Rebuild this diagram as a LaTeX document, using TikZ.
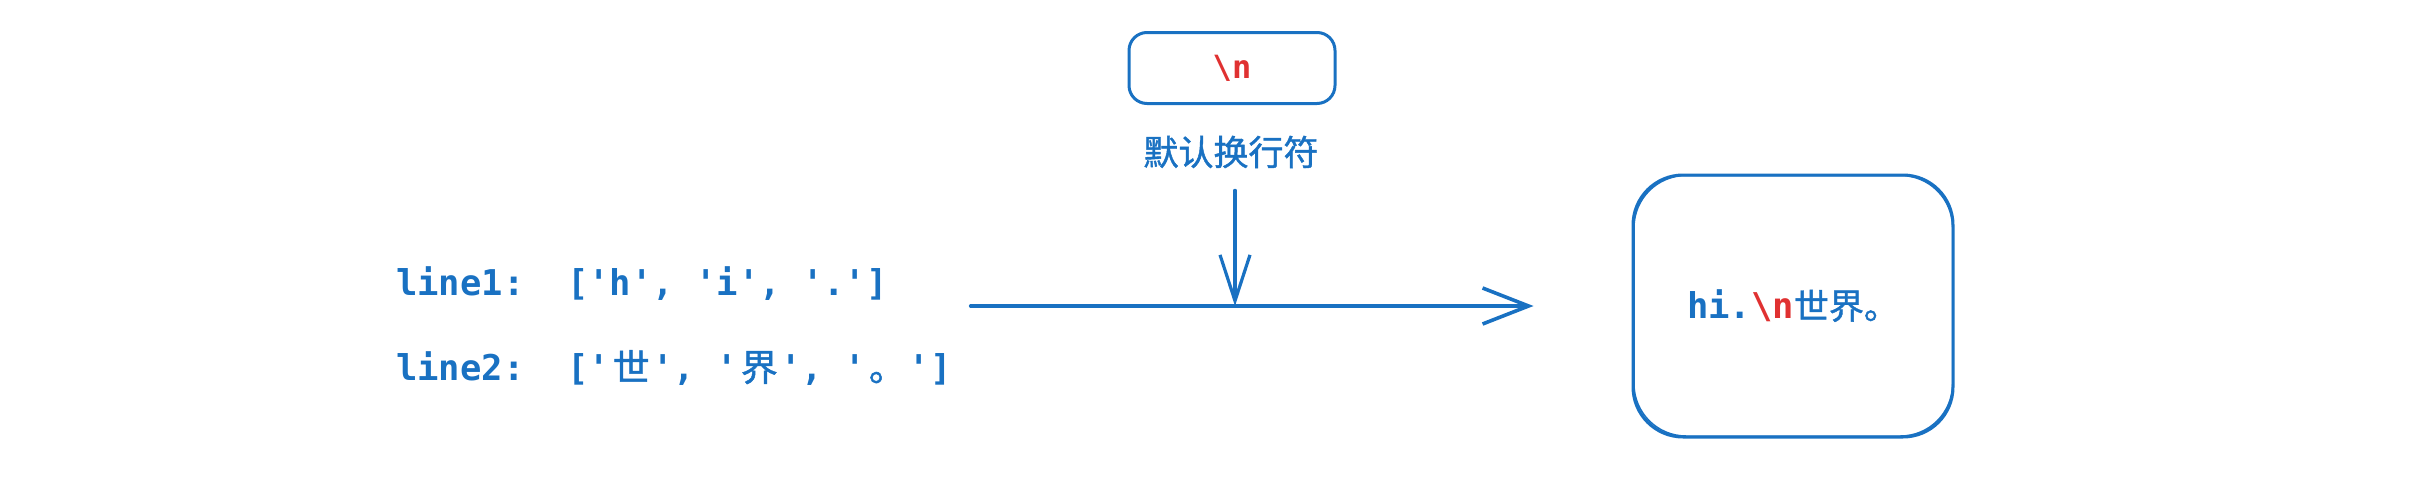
\documentclass[tikz,border=0pt]{standalone}
\usepackage{fontspec}
\setmonofont{DejaVu Sans Mono}
\newfontfamily\cjk{Noto Sans CJK SC}[FakeBold=1.2]
\usetikzlibrary{arrows.meta}
\definecolor{exblue}{HTML}{1971C2}
\definecolor{exred}{HTML}{E03131}
\tikzset{
  sketchbox/.style={draw=exblue, line width=3pt, fill=none, inner sep=0pt},
  monotxt/.style={text=exblue, font=\fontsize{35.5}{43}\selectfont\ttfamily\bfseries, inner sep=0pt, anchor=west},
  cjklabel/.style={text=exblue, font=\fontsize{35}{40}\selectfont\cjk, inner sep=0pt},
  arrh/.style={draw=exblue, line width=3.6pt, line cap=round, -{Straight Barb[length=46pt,width=36pt]}},
  arrv/.style={draw=exblue, line width=3.2pt, line cap=round, -{Straight Barb[length=46pt,width=30pt]}},
}
\newcommand{\cjw}[1]{\makebox[42.6pt]{\fontsize{37}{43}\selectfont\cjk\mdseries #1}}
\begin{document}
\begin{tikzpicture}[x=1pt,y=1pt]
\useasboundingbox (0,0) rectangle (2436,-482);
% top box with \n
\node[sketchbox, rounded corners=18pt, minimum width=206pt, minimum height=71pt,
      text=exred, font=\fontsize{32}{36}\selectfont\ttfamily\bfseries] (nl) at (1232,-68) {\textbackslash n};
\node[cjklabel] (lbl) at (1231,-152) {默认换行符};
% left text
\node[monotxt] (l1) at (396,-284) {line1:~~['h',~'i',~'.']};
\node[monotxt] (l2) at (396,-368) {line2:~~['\cjw{世}',~'\cjw{界}',~'\cjw{。}']};
% right box
\node[sketchbox, rounded corners=50pt, minimum width=320pt, minimum height=262pt,
      text=exblue] (rb) at (1793,-306)
      {{\fontsize{35.5}{43}\selectfont\ttfamily\bfseries hi.\textcolor{exred}{\textbackslash n}}{\fontsize{35}{40}\selectfont\cjk 世界。}};
\draw[exblue, line width=1.5pt, rounded corners=52pt]
  ([shift={(2.5pt,-2pt)}]rb.north west) rectangle ([shift={(-2pt,2.5pt)}]rb.south east);
% arrows
\coordinate (j) at (1235,-306);
\draw[arrh, shorten <=19pt, shorten >=98pt] (l2.east |- j) -- (rb.west |- j);
\draw[arrv, shorten <=22pt] (lbl.south -| j) -- (j);
\end{tikzpicture}
\end{document}
